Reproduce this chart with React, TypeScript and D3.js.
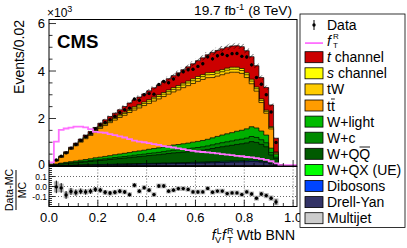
import React from 'react';
import * as d3 from 'd3';

// 50 bins of 0.02 in the BNN discriminant, values in events
const binWidth = 0.02;
const nBins = 50;

const multijet = [2,3,4,4,5,5,6,6,7,7,8,8,9,9,10,10,10,11,11,12,12,12,13,13,14,14,14,15,15,15,16,16,17,17,18,18,18,19,19,20,20,20,19,18,16,9,5,0,0,0];
const drellYan = [3,8,12,15,18,21,24,27,30,34,37,40,43,47,50,53,56,60,63,66,70,73,76,80,84,88,90,93,96,100,103,107,112,118,124,130,135,140,146,150,156,165,160,147,130,75,50,2,0,0];
const dibosons = [1,2,2,3,3,4,5,6,6,7,7,8,9,9,10,10,11,12,12,13,14,14,15,16,17,17,18,18,19,20,20,21,22,23,25,26,27,28,29,30,31,33,32,29,26,15,10,0,0,0];
const wQX = [1,2,2,3,4,4,5,5,6,7,7,8,9,9,10,11,11,12,13,13,14,15,15,16,17,18,18,19,19,20,21,21,22,24,25,26,27,28,29,30,31,33,32,29,26,15,10,0,0,0];
const wQQ = [14,38,56,70,85,99,113,127,141,160,174,188,202,221,235,249,263,282,296,310,329,343,357,376,395,414,423,437,451,470,484,503,526,555,583,611,635,658,686,705,733,776,752,691,611,352,235,9,0,0];
const wC = [3,10,16,20,23,27,31,35,39,44,48,52,56,61,65,69,73,78,82,86,91,95,99,104,109,114,117,121,125,130,134,139,146,153,161,169,176,182,190,195,203,215,208,191,169,98,65,3,0,0];
const wLight = [6,20,30,38,45,52,60,68,75,85,92,100,108,118,125,133,140,150,158,165,175,182,190,200,210,220,225,232,240,250,258,268,280,295,310,325,338,350,365,375,390,412,400,368,325,188,125,5,0,0];
const ttbar = [30,130,240,375,520,640,760,875,980,1085,1210,1300,1390,1460,1540,1600,1690,1750,1810,1880,1930,2000,2060,2120,2180,2235,2300,2365,2420,2470,2530,2570,2595,2540,2540,2540,2555,2545,2485,2395,2160,1810,1550,1200,920,810,40,7,0,0];
const tW = [6,12,18,21,24,30,33,39,42,48,54,57,60,66,72,78,81,84,87,90,96,99,102,102,105,108,111,114,114,117,120,120,123,126,126,126,126,126,126,123,120,114,102,90,78,60,30,2,0,0];
const sChannel = [4,8,12,14,16,20,22,26,28,32,36,38,40,44,48,52,54,56,58,60,64,66,68,68,70,72,74,76,76,78,80,80,82,84,84,84,84,84,84,82,80,76,68,60,52,40,20,1,0,0];
const tChannel = [10,20,30,40,50,62,75,88,100,115,130,145,160,180,200,240,265,290,315,340,370,395,420,450,475,505,535,565,600,635,670,710,760,850,870,880,885,895,905,920,930,950,900,900,950,910,580,30,0,0];
const mcUnc = [8,14,18,20,24,27,30,34,37,40,44,47,50,53,56,59,62,65,68,71,74,77,80,83,86,89,92,95,98,101,104,107,110,113,115,117,119,120,121,120,117,112,104,94,86,70,40,6,0,0];
const dataObs = [0,252,416,552,754,906,1079,1231,1385,1575,1737,1831,1949,2096,2254,2368,2438,2819,2770,3000,3049,3027,3434,3565,3505,3667,3842,3969,4053,4072,4195,4309,4596,4512,4641,4708,4650,4732,4741,4618,4593,4260,3730,3445,3003,2272,990,0,0,0];
const signalFT = [150,1030,1520,1580,1620,1660,1660,1630,1550,1440,1420,1400,1340,1300,1250,1200,1130,1070,1030,1000,960,920,890,840,810,780,740,710,670,640,610,590,570,550,530,500,480,460,430,410,380,360,330,300,260,200,110,40,40,40];

// bottom of stack first
const stackSeries = [multijet, drellYan, dibosons, wQX, wQQ, wC, wLight, ttbar, tW, sChannel, tChannel];
const stackColors = ['#cccccc', '#333366', '#0044ff', '#00ff00', '#005a00', '#008a00', '#00b000', '#ff9c00', '#ffcc00', '#ffff00', '#cc0000'];

const legendLabels = ['t channel', 's channel', 'tW', 'tt', 'W+light', 'W+c', 'W+QQ', 'W+QX (UE)', 'Dibosons', 'Drell-Yan', 'Multijet'];
const legendColors = ['#cc0000', '#ffff00', '#ffcc00', '#ff9c00', '#00bb00', '#008a00', '#005a00', '#00ff00', '#0044ff', '#333366', '#cccccc'];

const yTicks = [0, 2000, 4000, 6000];
const xTicks = [0, 0.2, 0.4, 0.6, 0.8, 1.0];
const rTicks = [-0.1, 0, 0.1];

const font = '"Liberation Sans", Arial, sans-serif';
const pink = '#ff70ff';

export default function App() {
  const x = d3.scaleLinear().domain([0, 1.016]).range([49, 297]);
  const y = d3.scaleLinear().domain([0, 6170]).range([166, 19.5]);
  const yr = d3.scaleLinear().domain([-0.2, 0.2]).range([206.5, 166.5]);

  const edges = d3.range(nBins + 1).map(i => i * binWidth);

  // cumulative sums
  const cum: number[][] = [];
  stackSeries.forEach((s, k) => {
    cum.push(s.map((v, i) => v + (k > 0 ? cum[k - 1][i] : 0)));
  });
  const total = cum[cum.length - 1];

  const histPts = (vals: number[]) => {
    const pts: [number, number][] = [];
    vals.forEach((v, i) => {
      pts.push([edges[i], v]);
      pts.push([edges[i + 1], v]);
    });
    return pts;
  };
  const area = d3.area<[number, number]>().x(d => x(d[0])).y0(y(0)).y1(d => y(d[1]));
  const lineGen = d3.line<[number, number]>().x(d => x(d[0])).y(d => y(d[1]));

  const sigPts = histPts(signalFT);
  sigPts.push([1.016, signalFT[nBins - 1]]);

  const centers = d3.range(nBins).map(i => edges[i] + binWidth / 2);
  const ratio = dataObs.map((d, i) => (d > 0 && total[i] > 0 ? (d - total[i]) / total[i] : null));

  const yMinor = d3.range(0, 6001, 500);
  const xMinor = d3.range(0, 1.0001, 0.04);
  const rMinor = d3.range(-0.2, 0.2001, 0.02);

  const legX = 305;
  const legRow = (i: number) => 25 + i * 16.1;

  return (
    <svg width={407} height={248} style={{ position: 'absolute', left: 0, top: 0, background: 'white' }} fontFamily={font}>
      <defs>
        <clipPath id="mainClip"><rect x={49} y={19.5} width={248} height={146.5} /></clipPath>
        <clipPath id="ratioClip"><rect x={49} y={166.5} width={248} height={40} /></clipPath>
        <pattern id="hatch" patternUnits="userSpaceOnUse" width={3.5} height={3.5} patternTransform="rotate(45)">
          <line x1={0} y1={0} x2={0} y2={3.5} stroke="#000" strokeWidth={0.9} />
        </pattern>
      </defs>
      <rect x={0} y={0} width={407} height={248} fill="white" />

      {/* main panel */}
      <g clipPath="url(#mainClip)">
        {cum.slice().reverse().map((c, j) => {
          const k = cum.length - 1 - j;
          return <path key={k} d={area(histPts(c)) || ''} fill={stackColors[k]} stroke="#000" strokeWidth={0.7} />;
        })}
        {total.map((t, i) => (t > 0 ? (
          <rect key={'h' + i} x={x(edges[i])} width={x(edges[i + 1]) - x(edges[i])}
            y={y(t + mcUnc[i])} height={y(t - mcUnc[i]) - y(t + mcUnc[i])} fill="url(#hatch)" />
        ) : null))}
        <path d={lineGen(sigPts) || ''} fill="none" stroke={pink} strokeWidth={1.8} />
        {dataObs.map((d, i) => (d > 0 ? (
          <g key={'d' + i}>
            <line x1={x(centers[i])} x2={x(centers[i])} y1={y(d - Math.sqrt(d))} y2={y(d + Math.sqrt(d))} stroke="#000" strokeWidth={1} />
            <circle cx={x(centers[i])} cy={y(d)} r={1.7} fill="#000" />
          </g>
        ) : null))}
      </g>
      <rect x={49} y={19.5} width={248} height={146.5} fill="none" stroke="#000" strokeWidth={1} />
      {yMinor.map(v => (
        <line key={'ym' + v} x1={49} x2={v % 2000 === 0 ? 56 : 52.5} y1={y(v)} y2={y(v)} stroke="#000" strokeWidth={0.8} />
      ))}
      {xMinor.map(v => (
        <line key={'xm' + v} x1={x(v)} x2={x(v)} y1={166} y2={Math.abs(v * 5 - Math.round(v * 5)) < 1e-6 ? 160 : 163} stroke="#000" strokeWidth={0.8} />
      ))}
      {yTicks.map(v => (
        <text key={'yt' + v} x={45} y={v === 0 ? y(v) - 1 : y(v)} dy="0.36em" textAnchor="end" fontSize={v === 0 ? 12 : 13}>{v / 1000}</text>
      ))}
      <text x={47} y={17} fontSize={12}>×10<tspan dy={-5} fontSize={9}>3</tspan></text>
      <text x={57} y={48} fontSize={18.7} fontWeight="bold">CMS</text>
      <text x={292} y={15} fontSize={13.7} textAnchor="end">19.7 fb<tspan dy={-5} fontSize={9.5}>-1</tspan><tspan dy={5}> (8 TeV)</tspan></text>
      <text transform="translate(24,20) rotate(-90)" textAnchor="end" fontSize={14}>Events/0.02</text>

      {/* ratio panel */}
      <g clipPath="url(#ratioClip)">
        {rTicks.map(v => (
          <line key={'rg' + v} x1={49} x2={297} y1={yr(v)} y2={yr(v)} stroke="#000" strokeWidth={0.6} strokeDasharray="1,2" />
        ))}
        {xTicks.slice(1).map(v => (
          <line key={'xg' + v} x1={x(v)} x2={x(v)} y1={166.5} y2={206.5} stroke="#000" strokeWidth={0.6} strokeDasharray="1,2" />
        ))}
        {ratio.map((r, i) => (r === null ? null : (
          <rect key={'rb' + i} x={x(edges[i])} width={x(edges[i + 1]) - x(edges[i])}
            y={yr(r + mcUnc[i] / total[i])} height={yr(r - mcUnc[i] / total[i]) - yr(r + mcUnc[i] / total[i])} fill="#b4b4b4" />
        )))}
        {ratio.map((r, i) => {
          if (r === null) return null;
          const e = Math.sqrt(dataObs[i]) / total[i];
          return (
            <g key={'rp' + i}>
              <line x1={x(centers[i])} x2={x(centers[i])} y1={yr(r - e)} y2={yr(r + e)} stroke="#000" strokeWidth={1} />
              <circle cx={x(centers[i])} cy={yr(r)} r={1.7} fill="#000" />
            </g>
          );
        })}
      </g>
      <rect x={49} y={166.5} width={248} height={40} fill="none" stroke="#000" strokeWidth={1} />
      {rMinor.map(v => (
        <line key={'rm' + v.toFixed(2)} x1={49} x2={Math.abs(v * 10 - Math.round(v * 10)) < 1e-6 ? 55 : 52} y1={yr(v)} y2={yr(v)} stroke="#000" strokeWidth={0.8} />
      ))}
      {xMinor.map(v => (
        <line key={'rxm' + v} x1={x(v)} x2={x(v)} y1={206.5} y2={Math.abs(v * 5 - Math.round(v * 5)) < 1e-6 ? 200 : 203} stroke="#000" strokeWidth={0.8} />
      ))}
      {rTicks.map(v => (
        <text key={'rt' + v} x={47} y={yr(v)} dy="0.36em" textAnchor="end" fontSize={8.5}>{v.toFixed(1)}</text>
      ))}
      {xTicks.map(v => (
        <text key={'xt' + v} x={x(v)} y={222} textAnchor="middle" fontSize={13}>{v.toFixed(1)}</text>
      ))}
      <g transform="translate(0,190) rotate(-90)">
        <text x={0} y={13} textAnchor="middle" fontSize={10.5}>Data-MC</text>
        <line x1={-20} x2={20} y1={16} y2={16} stroke="#000" strokeWidth={1} />
        <text x={0} y={26} textAnchor="middle" fontSize={10.5}>MC</text>
      </g>
      <text x={295} y={240} textAnchor="end" fontSize={14}>
        <tspan fontStyle="italic">f</tspan><tspan dx={1} dy={-6} fontSize={9}>L</tspan><tspan dx={-6} dy={9} fontSize={9}>V</tspan>
        <tspan dx={1} dy={-3} fontStyle="italic">f</tspan><tspan dx={1} dy={-6} fontSize={9}>R</tspan><tspan dx={-6} dy={9} fontSize={9}>T</tspan>
        <tspan dy={-3}> Wtb BNN</tspan>
      </text>

      {/* legend */}
      <rect x={300} y={14} width={105} height={213.5} fill="white" stroke="#000" strokeWidth={0.8} />
      <line x1={legX + 9} x2={legX + 9} y1={legRow(0) - 5} y2={legRow(0) + 5} stroke="#000" strokeWidth={1} />
      <circle cx={legX + 9} cy={legRow(0)} r={1.7} fill="#000" />
      <text x={327} y={legRow(0)} dy="0.36em" fontSize={14}>Data</text>
      <line x1={legX} x2={legX + 18} y1={legRow(1) + 2} y2={legRow(1) + 2} stroke={pink} strokeWidth={1.8} />
      <text x={327} y={legRow(1) + 5} fontSize={14}><tspan fontStyle="italic">f</tspan></text>
      <text x={333} y={legRow(1) - 2} fontSize={8}>R</text>
      <text x={333} y={legRow(1) + 6.5} fontSize={8}>T</text>
      {legendLabels.map((lab, i) => {
        const cy = legRow(i + 2);
        let content: React.ReactNode = lab;
        if (i === 0) content = <><tspan fontStyle="italic">t</tspan> channel</>;
        if (i === 1) content = <><tspan fontStyle="italic">s</tspan> channel</>;
        return (
          <g key={'leg' + i}>
            <rect x={legX} y={cy - 5.5} width={18} height={11} fill={legendColors[i]} stroke="#000" strokeWidth={0.8} />
            <text x={327} y={cy} dy="0.36em" fontSize={14}>{content}</text>
            {i === 3 ? <line x1={331} x2={334.8} y1={cy - 6.5} y2={cy - 6.5} stroke="#000" strokeWidth={0.9} /> : null}
            {i === 6 ? <line x1={359.5} x2={370} y1={cy - 6.8} y2={cy - 6.8} stroke="#000" strokeWidth={0.9} /> : null}
          </g>
        );
      })}
    </svg>
  );
}
